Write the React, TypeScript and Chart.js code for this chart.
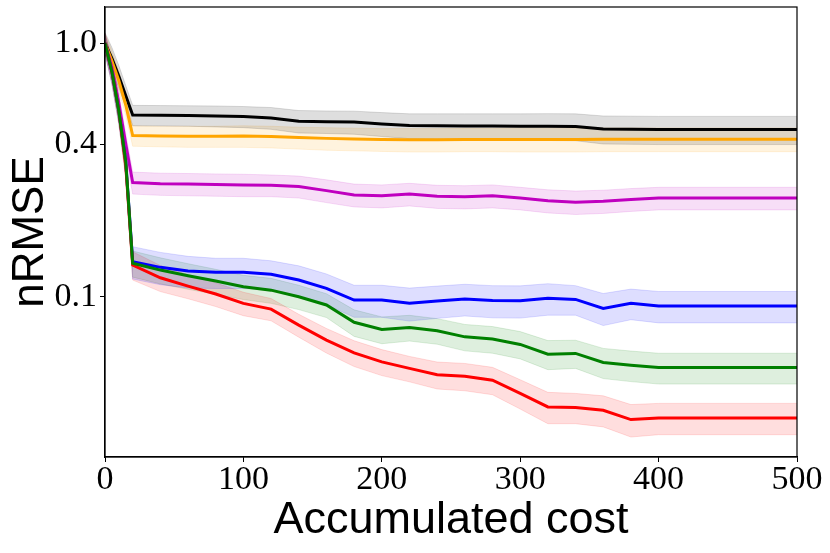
import { useEffect, useRef } from "react";
import { Chart, ChartConfiguration, registerables } from "chart.js";

Chart.register(...registerables);

// x positions (accumulated cost)
const costs = [0, 5, 10, 15, 20, 40, 60, 80, 100, 120, 140, 160, 180, 200, 220, 240, 260, 280, 300, 320, 340, 360, 380, 400, 500];

const blackMean = [1.0, 0.87, 0.74, 0.62, 0.52, 0.519, 0.518, 0.516, 0.513, 0.507, 0.492, 0.49, 0.488, 0.48, 0.473, 0.472, 0.471, 0.471, 0.47, 0.47, 0.469, 0.458, 0.457, 0.456, 0.456];
const blackStd = [0.1, 0.09, 0.075, 0.06, 0.048, 0.048, 0.048, 0.049, 0.049, 0.05, 0.05, 0.05, 0.051, 0.052, 0.053, 0.054, 0.055, 0.055, 0.056, 0.057, 0.057, 0.058, 0.058, 0.058, 0.058];

const orangeMean = [1.0, 0.85, 0.71, 0.57, 0.432, 0.43, 0.429, 0.429, 0.43, 0.428, 0.424, 0.421, 0.419, 0.417, 0.416, 0.416, 0.417, 0.417, 0.417, 0.417, 0.417, 0.418, 0.418, 0.418, 0.418];
const orangeStd = [0.09, 0.08, 0.065, 0.05, 0.04, 0.04, 0.041, 0.041, 0.042, 0.042, 0.042, 0.043, 0.043, 0.043, 0.044, 0.044, 0.044, 0.044, 0.045, 0.045, 0.045, 0.045, 0.045, 0.045, 0.045];

const magentaMean = [1.0, 0.8, 0.58, 0.4, 0.282, 0.279, 0.278, 0.277, 0.276, 0.275, 0.272, 0.262, 0.252, 0.25, 0.254, 0.249, 0.248, 0.25, 0.245, 0.239, 0.236, 0.238, 0.242, 0.245, 0.245];
const magentaStd = [0.09, 0.08, 0.06, 0.04, 0.028, 0.028, 0.028, 0.028, 0.028, 0.027, 0.027, 0.027, 0.026, 0.026, 0.026, 0.026, 0.026, 0.026, 0.025, 0.025, 0.025, 0.025, 0.025, 0.025, 0.025];

const blueMean = [1.0, 0.77, 0.54, 0.34, 0.1375, 0.1306, 0.1263, 0.1248, 0.1248, 0.1226, 0.1164, 0.108, 0.097, 0.097, 0.0942, 0.0962, 0.098, 0.0966, 0.0964, 0.0986, 0.0976, 0.09, 0.0942, 0.0919, 0.0919];
const blueStd = [0.09, 0.08, 0.06, 0.04, 0.02, 0.019, 0.018, 0.017, 0.017, 0.016, 0.016, 0.015, 0.014, 0.014, 0.014, 0.014, 0.014, 0.014, 0.014, 0.014, 0.013, 0.013, 0.013, 0.013, 0.013];

const greenMean = [1.0, 0.77, 0.54, 0.34, 0.1355, 0.1274, 0.121, 0.1153, 0.1095, 0.1062, 0.1, 0.0928, 0.0793, 0.0743, 0.0757, 0.0735, 0.0695, 0.0681, 0.0649, 0.0594, 0.0598, 0.0551, 0.0537, 0.0526, 0.0526];
const greenStd = [0.09, 0.08, 0.06, 0.04, 0.016, 0.015, 0.014, 0.013, 0.012, 0.012, 0.011, 0.01, 0.0095, 0.009, 0.0088, 0.0085, 0.0083, 0.0082, 0.008, 0.0078, 0.0076, 0.0075, 0.0074, 0.0073, 0.0073];

const redMean = [1.0, 0.77, 0.54, 0.33, 0.1334, 0.1188, 0.1102, 0.1025, 0.0942, 0.0894, 0.0773, 0.0675, 0.0601, 0.0554, 0.0522, 0.0493, 0.0486, 0.0469, 0.0416, 0.0368, 0.0366, 0.0357, 0.0328, 0.0333, 0.0333];
const redStd = [0.09, 0.08, 0.06, 0.04, 0.017, 0.014, 0.012, 0.011, 0.01, 0.009, 0.008, 0.0075, 0.007, 0.0065, 0.006, 0.006, 0.006, 0.0058, 0.0055, 0.0052, 0.005, 0.005, 0.0048, 0.0047, 0.0047];

const yTicks = [0.1, 0.4, 1.0];
const xTickStep = 100;

const series = [
  { name: "black", mean: blackMean, std: blackStd, line: "#000000", band: "rgba(0,0,0,0.13)", order: 5 },
  { name: "orange", mean: orangeMean, std: orangeStd, line: "#FFA500", band: "rgba(255,165,0,0.13)", order: 4 },
  { name: "magenta", mean: magentaMean, std: magentaStd, line: "#BF00BF", band: "rgba(191,0,191,0.13)", order: 3 },
  { name: "blue", mean: blueMean, std: blueStd, line: "#0000FF", band: "rgba(0,0,255,0.13)", order: 2 },
  { name: "red", mean: redMean, std: redStd, line: "#FF0000", band: "rgba(255,0,0,0.13)", order: 1 },
  { name: "green", mean: greenMean, std: greenStd, line: "#008000", band: "rgba(0,128,0,0.13)", order: 0 },
];

// box around the plot area, like matplotlib spines
const frame = {
  id: "frame",
  afterDraw(chart: Chart) {
    const { ctx, chartArea: a } = chart;
    ctx.save();
    ctx.strokeStyle = "#000";
    ctx.lineWidth = 1.2;
    ctx.strokeRect(a.left, a.top, a.right - a.left, a.bottom - a.top);
    ctx.restore();
  },
};

export default function App() {
  const canvasRef = useRef<HTMLCanvasElement>(null);
  const chartRef = useRef<Chart | null>(null);

  useEffect(() => {
    if (!canvasRef.current) return;
    if (chartRef.current) chartRef.current.destroy();
    const ctx = canvasRef.current.getContext("2d");
    if (!ctx) return;

    const datasets: any[] = [];
    series.forEach((s) => {
      datasets.push({
        label: s.name + " upper",
        data: costs.map((x, i) => ({ x, y: s.mean[i] + s.std[i] })),
        borderColor: s.band,
        borderWidth: 1,
        backgroundColor: s.band,
        pointRadius: 0,
        fill: "+1",
        order: 10,
      });
      datasets.push({
        label: s.name + " lower",
        data: costs.map((x, i) => ({ x, y: s.mean[i] - s.std[i] })),
        borderColor: s.band,
        borderWidth: 1,
        pointRadius: 0,
        fill: false,
        order: 10,
      });
    });
    series.forEach((s) => {
      datasets.push({
        label: s.name,
        data: costs.map((x, i) => ({ x, y: s.mean[i] })),
        borderColor: s.line,
        borderWidth: 3,
        pointRadius: 0,
        fill: false,
        tension: 0,
        order: s.order,
      });
    });

    const config: ChartConfiguration = {
      type: "line",
      data: { datasets },
      options: {
        animation: false,
        responsive: true,
        maintainAspectRatio: false,
        layout: { padding: { top: 7, right: 33, left: 0, bottom: 0 } },
        plugins: {
          legend: { display: false },
          tooltip: { enabled: false },
        },
        scales: {
          x: {
            type: "linear",
            min: 0,
            max: 500,
            ticks: {
              stepSize: xTickStep,
              color: "#000",
              padding: 1,
              font: { family: "Liberation Serif", size: 34, lineHeight: 1 },
              maxRotation: 0,
            },
            grid: { display: true, drawOnChartArea: false, drawTicks: true, tickLength: 5, color: "#000" },
            border: { display: true, color: "#000", width: 1.2 },
            title: {
              display: true,
              text: "Accumulated cost",
              color: "#000",
              font: { family: "Liberation Sans", size: 45, lineHeight: 1 },
              padding: { top: 0, bottom: 9.5 },
            },
            afterFit: (scale: any) => {
              scale.height = 96;
              scale.paddingLeft = 0;
              scale.paddingRight = 0;
            },
          },
          y: {
            type: "logarithmic",
            min: 0.02336,
            max: 1.387,
            afterBuildTicks: (scale: any) => {
              scale.ticks = yTicks.map((v) => ({ value: v }));
            },
            ticks: {
              color: "#000",
              padding: 3,
              font: { family: "Liberation Serif", size: 34, lineHeight: 1 },
              callback: (v: any) => Number(v).toFixed(1),
            },
            grid: { display: true, drawOnChartArea: false, drawTicks: true, tickLength: 5, color: "#000" },
            border: { display: true, color: "#000", width: 1.2 },
            title: {
              display: true,
              text: "nRMSE",
              color: "#000",
              font: { family: "Liberation Sans", size: 44, lineHeight: 1 },
              padding: { top: 9, bottom: 0 },
            },
            afterFit: (scale: any) => {
              scale.width = 105;
              scale.paddingTop = 0;
              scale.paddingBottom = 0;
            },
          },
        },
      },
      plugins: [frame],
    };

    chartRef.current = new Chart(ctx, config);

    return () => {
      if (chartRef.current) {
        chartRef.current.destroy();
        chartRef.current = null;
      }
    };
  }, []);

  return (
    <div style={{ position: "fixed", left: 0, top: 0, width: 830, height: 553, background: "#fff" }}>
      <canvas ref={canvasRef} />
    </div>
  );
}
